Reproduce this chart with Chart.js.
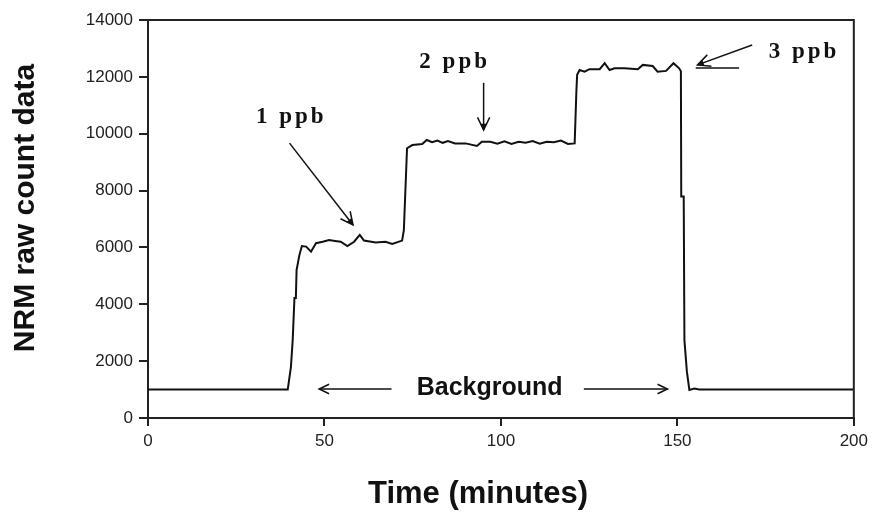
<!DOCTYPE html>
<html>
<head>
<meta charset="utf-8">
<script src="https://cdn.jsdelivr.net/npm/chart.js@4/dist/chart.umd.min.js"></script>
<style>
  html, body { margin: 0; padding: 0; background: #fff; }
  #wrap { width: 873px; height: 512px; }
</style>
</head>
<body>
<div id="wrap"><canvas id="nrmChart"></canvas></div>
<script>
"use strict";

// ---------- data ----------
const timeMin = [
  0, 39.6, 40.5, 41, 41.5, 41.9, 42.1, 42.9, 43.6, 44.8, 46.2, 47.6, 49.5, 51.3, 53,
  54.6, 56.5, 58.4, 60, 61.2, 64.5, 67.3, 69.2, 72, 72.5, 73.4, 74.9, 77.7, 79,
  80.5, 82, 83.5, 85, 87, 90, 93.2, 94.6, 97, 99, 101, 103, 105, 107, 109, 111,
  113, 115, 117, 119, 120.9, 121.4, 121.6, 122.3, 123.7, 125.1, 128, 129.4,
  130.8, 132.2, 135, 138.8, 140.2, 143, 144.4, 146.8, 148.9, 150.5, 151, 151.1,
  151.8, 152.0, 152.7, 153.4, 154.8, 156.2, 200
];
const rawCounts = [
  1000, 1000, 1800, 2740, 4220, 4220, 5200, 5730, 6050, 6030, 5850, 6150, 6200, 6260, 6230,
  6200, 6050, 6200, 6440, 6240, 6170, 6200, 6120, 6240, 6610, 9490, 9600, 9640, 9780,
  9700, 9760, 9680, 9740, 9660, 9660, 9570, 9720, 9720, 9650, 9730, 9640, 9720, 9680, 9740, 9650,
  9720, 9700, 9760, 9640, 9660, 11540, 12070, 12240, 12180, 12270, 12270, 12480,
  12240, 12300, 12300, 12270, 12420, 12380, 12180, 12210, 12480, 12300, 12200, 7790,
  7790, 2740, 1630, 985, 1040, 1000, 1000
];
const xTicks = [0, 50, 100, 150, 200];
const yTicks = [0, 2000, 4000, 6000, 8000, 10000, 12000, 14000];

// annotation anchors in data units (time, counts)
const labels = [
  { text: "1 ppb", t: 40.6, v: 10590 },
  { text: "2 ppb", t: 86.9, v: 12520 },
  { text: "3 ppb", t: 185.9, v: 12880 },
];
const arrows = [
  { from: [40.1, 9670], to: [58.1, 6790] },
  { from: [95.1, 11790], to: [95.1, 10130] },
  { from: [171.2, 13120], to: [155.7, 12420] },
];
const bgText = { text: "Background", t: 96.8, v: 1055 };
const bgArrows = [
  { from: [69, 1020], to: [48.5, 1020] },
  { from: [123.5, 1020], to: [147.2, 1020] },
];

const points = timeMin.map((t, i) => ({ x: t, y: rawCounts[i] }));

function head(ctx, x1, y1, x2, y2, len, filled) {
  const a = Math.atan2(y2 - y1, x2 - x1);
  const s = 0.45;
  ctx.beginPath();
  ctx.moveTo(x2 - len * Math.cos(a - s), y2 - len * Math.sin(a - s));
  ctx.lineTo(x2, y2);
  ctx.lineTo(x2 - len * Math.cos(a + s), y2 - len * Math.sin(a + s));
  if (filled) {
    ctx.closePath();
    ctx.fill();
  } else {
    ctx.stroke();
  }
}

const decorPlugin = {
  id: "decor",
  afterDraw(chart) {
    const { ctx, chartArea: ca, scales } = chart;
    const X = (t) => scales.x.getPixelForValue(t);
    const Y = (v) => scales.y.getPixelForValue(v);
    ctx.save();

    // frame (top + right)
    ctx.strokeStyle = "#222";
    ctx.lineWidth = 2;
    ctx.beginPath();
    ctx.moveTo(ca.left, ca.top);
    ctx.lineTo(ca.right, ca.top);
    ctx.lineTo(ca.right, ca.bottom);
    ctx.stroke();

    // axis titles
    ctx.fillStyle = "#111";
    ctx.font = "bold 31px 'Liberation Sans', Arial, sans-serif";
    ctx.textAlign = "center";
    ctx.textBaseline = "middle";
    ctx.fillText("Time (minutes)", ca.left + 330, 494);
    ctx.save();
    ctx.translate(26, ca.top + 188);
    ctx.rotate(-Math.PI / 2);
    ctx.font = "bold 30px 'Liberation Sans', Arial, sans-serif";
    ctx.fillText("NRM raw count data", 0, 0);
    ctx.restore();

    // ppb labels
    ctx.font = "bold 23px 'Liberation Serif', 'Times New Roman', serif";
    ctx.letterSpacing = "3px";
    labels.forEach((l) => ctx.fillText(l.text, X(l.t), Y(l.v)));
    ctx.letterSpacing = "0px";

    // ppb arrows
    ctx.lineWidth = 1.5;
    ctx.strokeStyle = "#111";
    arrows.forEach((a) => {
      const x1 = X(a.from[0]), y1 = Y(a.from[1]);
      const x2 = X(a.to[0]), y2 = Y(a.to[1]);
      ctx.beginPath();
      ctx.moveTo(x1, y1);
      ctx.lineTo(x2, y2);
      ctx.stroke();
      head(ctx, x1, y1, x2, y2, 14, false);
      head(ctx, x1, y1, x2, y2, 7, true);
    });
    // underline of the 3 ppb arrow
    ctx.beginPath();
    ctx.moveTo(X(155.2), Y(12310));
    ctx.lineTo(X(167.5), Y(12310));
    ctx.stroke();

    // background label + arrows
    ctx.font = "bold 25px 'Liberation Sans', Arial, sans-serif";
    ctx.fillText(bgText.text, X(bgText.t), Y(bgText.v));
    bgArrows.forEach((a) => {
      const x1 = X(a.from[0]), y1 = Y(a.from[1]);
      const x2 = X(a.to[0]), y2 = Y(a.to[1]);
      ctx.beginPath();
      ctx.moveTo(x1, y1);
      ctx.lineTo(x2, y2);
      ctx.stroke();
      head(ctx, x1, y1, x2, y2, 11, false);
    });

    ctx.restore();
  },
};

const tickFont = { family: "'Liberation Sans', Arial, sans-serif", size: 17 };

new Chart(document.getElementById("nrmChart"), {
  type: "scatter",
  data: {
    datasets: [
      {
        data: points,
        showLine: true,
        borderColor: "#111",
        borderWidth: 2,
        pointRadius: 0,
        tension: 0,
      },
    ],
  },
  options: {
    responsive: true,
    maintainAspectRatio: false,
    animation: false,
    layout: { padding: { top: 20, right: 16, left: 0, bottom: 0 } },
    plugins: { legend: { display: false }, tooltip: { enabled: false } },
    scales: {
      x: {
        type: "linear",
        min: 0,
        max: 200,
        afterBuildTicks: (s) => { s.ticks = xTicks.map((v) => ({ value: v })); },
        afterFit: (s) => { s.height = 94; },
        ticks: { color: "#222", font: tickFont, padding: 5, maxRotation: 0, callback: (v) => String(v) },
        grid: { drawOnChartArea: false, tickLength: 8, color: "#222", lineWidth: 2 },
        border: { color: "#222", width: 2 },
      },
      y: {
        min: 0,
        max: 14000,
        afterBuildTicks: (s) => { s.ticks = yTicks.map((v) => ({ value: v })); },
        afterFit: (s) => { s.width = 148; },
        ticks: { color: "#222", font: tickFont, padding: 6, callback: (v) => String(v) },
        grid: { drawOnChartArea: false, tickLength: 9, color: "#222", lineWidth: 2 },
        border: { color: "#222", width: 2 },
      },
    },
  },
  plugins: [decorPlugin],
});
</script>
</body>
</html>
